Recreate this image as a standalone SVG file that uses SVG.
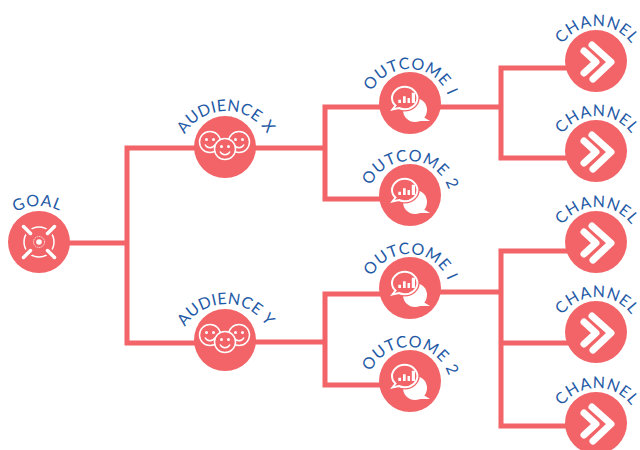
<svg xmlns="http://www.w3.org/2000/svg" width="640" height="450" viewBox="0 0 640 450">
<style>
.c{fill:none;stroke:#f26467;stroke-width:5}
.b{fill:#f26467}
.w{fill:none;stroke:#fff;stroke-width:1.500}
.t{font-family:"Lato","Noto Sans",sans-serif;font-size:16px;fill:#1f5aa6;letter-spacing:0.800px;text-anchor:middle}
.ta{letter-spacing:0.400px}
</style>
<defs>
<path id="arcA" d="M-47 12A48 48 0 0 1 49 12"/>
<path id="arcO" d="M-43 8A42 42 0 0 1 41 8"/>
<path id="arcC" d="M-41 7A42 42 0 0 1 43 7"/>
<path id="arcG" d="M-46 10A46 46 0 0 1 46 10"/>
<g id="face"><circle r="10.500" fill="#f26467" stroke="#fff" stroke-width="1.500"/><circle cx="-3.500" cy="-2.500" r="1.500" fill="#fff"/><circle cx="3.500" cy="-2.500" r="1.500" fill="#fff"/><path d="M-5 2.500A5.500 5.500 0 0 0 5 2.500" class="w"/></g>
<g id="iconAud"><use href="#face" x="-15" y="-5"/><use href="#face" x="14" y="-5"/><use href="#face" x="0" y="2"/></g>
<g id="iconOut">
<circle cx="5" cy="7" r="12" fill="#fff"/>
<path d="M10 12L20 18L6 18Z" fill="#fff"/>
<ellipse cx="-5.300" cy="-5" rx="15" ry="13.500" fill="#f26467"/>
<path d="M-5.300 -16.200C1.700 -16.200 7.400 -11 7.400 -5C7.400 1.200 1.700 6.200 -5.300 6.200C-7.500 6.200 -9.500 5.800 -11 5L-17.500 6.500L-14.500 2.500C-16.800 0.500 -18 -2.300 -18 -5C-18 -11 -12.300 -16.200 -5.300 -16.200Z" fill="none" stroke="#fff" stroke-width="2"/>
<path d="M-11.700 -3.300h2.700v3.300h-2.700zM-7 -6.700h2.700v6.700h-2.700zM-2.500 -5h2.500v5h-2.500zM1.800 -10.300h3.200v10.300h-3.200z" fill="#fff"/>
</g>
<g id="iconChan" fill="none" stroke="#fff" stroke-width="7" stroke-linecap="round" stroke-linejoin="round"><path d="M-12 -10L0 1L-12 12"/><path d="M-4 -16L15 1L-3 18"/></g>
<g id="iconGoal" fill="none" stroke="#fff">
<circle r="15" stroke-width="1.500"/>
<circle r="5.500" stroke-width="0.800" stroke-dasharray="1.500 0.800"/>
<circle r="2.800" fill="#fff" stroke="none"/>
<path d="M-15 -15L-9 -9M15 -15L9 -9M-15 15L-9 9M15 15L9 9" stroke="#f26467" stroke-width="8"/>
<path d="M-15.500 -15.500L-8.500 -8.500M15.500 -15.500L8.500 -8.500M-15.500 15.500L-8.500 8.500M15.500 15.500L8.500 8.500" stroke-width="3.500" stroke-linecap="round"/>
</g>
</defs>
<g id="connectors">
<path class="c" d="M65 243H127M225 148H127V343H225"/>
<path class="c" d="M225 148H325M410 107H325V199H410"/>
<path class="c" d="M225 342H325M410 294H325V385H410"/>
<path class="c" d="M410 107H501M596 68H501V158H596"/>
<path class="c" d="M410 292H501M596 251H501V426H596M501 343H596"/>
</g>
<g id="goal" transform="translate(39 242)"><circle r="31" class="b"/><use href="#iconGoal"/><text class="t"><textPath href="#arcG" startOffset="49%">GOAL</textPath></text></g>
<g id="audience-x" transform="translate(225 147)"><circle r="31" class="b"/><use href="#iconAud"/><text class="t ta"><textPath href="#arcA" startOffset="50%">AUDIENCE X</textPath></text></g>
<g id="audience-y" transform="translate(225 340)"><circle r="31" class="b"/><use href="#iconAud"/><text class="t ta"><textPath href="#arcA" startOffset="50%">AUDIENCE Y</textPath></text></g>
<g id="outcome-1a" transform="translate(410 103)"><circle r="31" class="b"/><use href="#iconOut"/><text class="t"><textPath href="#arcO" startOffset="52%">OUTCOME I</textPath></text></g>
<g id="outcome-2a" transform="translate(410 195)"><circle r="31" class="b"/><use href="#iconOut"/><text class="t"><textPath href="#arcO" startOffset="52%">OUTCOME 2</textPath></text></g>
<g id="outcome-1b" transform="translate(410 288)"><circle r="31" class="b"/><use href="#iconOut"/><text class="t"><textPath href="#arcO" startOffset="52%">OUTCOME I</textPath></text></g>
<g id="outcome-2b" transform="translate(410 381)"><circle r="31" class="b"/><use href="#iconOut"/><text class="t"><textPath href="#arcO" startOffset="52%">OUTCOME 2</textPath></text></g>
<g id="channel-1" transform="translate(596 61)"><circle r="31" class="b"/><use href="#iconChan"/><text class="t"><textPath href="#arcC" startOffset="50%">CHANNEL</textPath></text></g>
<g id="channel-2" transform="translate(596 151)"><circle r="31" class="b"/><use href="#iconChan"/><text class="t"><textPath href="#arcC" startOffset="50%">CHANNEL</textPath></text></g>
<g id="channel-3" transform="translate(596 242)"><circle r="31" class="b"/><use href="#iconChan"/><text class="t"><textPath href="#arcC" startOffset="50%">CHANNEL</textPath></text></g>
<g id="channel-4" transform="translate(596 332)"><circle r="31" class="b"/><use href="#iconChan"/><text class="t"><textPath href="#arcC" startOffset="50%">CHANNEL</textPath></text></g>
<g id="channel-5" transform="translate(596 423)"><circle r="31" class="b"/><use href="#iconChan"/><text class="t"><textPath href="#arcC" startOffset="50%">CHANNEL</textPath></text></g>
</svg>
